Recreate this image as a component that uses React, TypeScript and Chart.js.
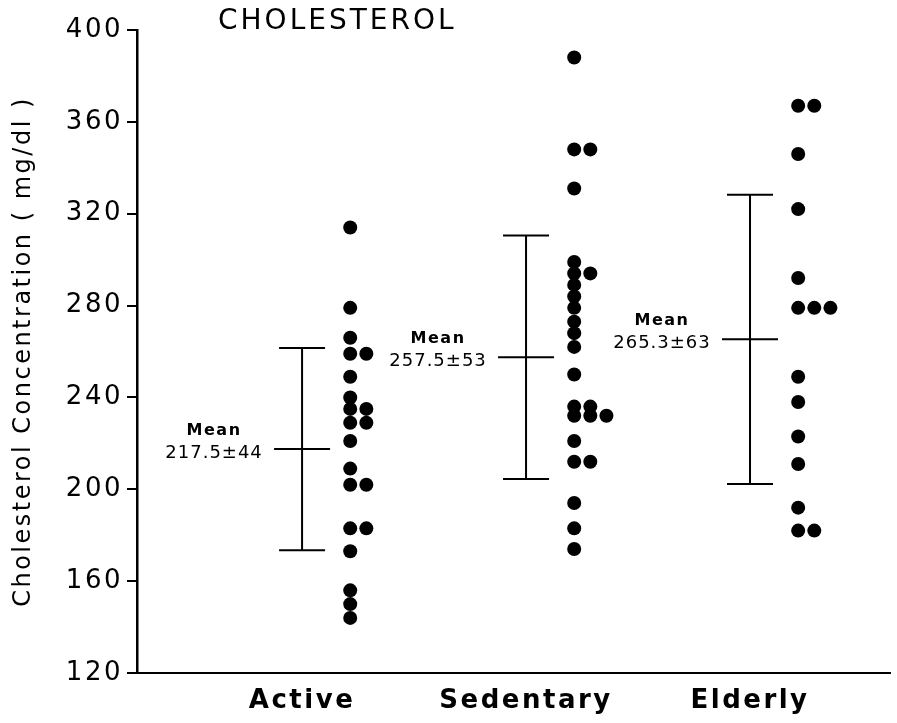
import React, { useEffect, useRef } from 'react';
import { Chart, registerables } from 'chart.js';

Chart.register(...registerables);

// ---- data ----
const categories = ['Active', 'Sedentary', 'Elderly'];
const activeValues = [314, 279, 266, 259, 259, 249, 240, 235, 235, 229, 229, 221, 209, 202, 202, 183, 183, 173, 156, 150, 144];
const sedentaryValues = [388, 348, 348, 331, 299, 294, 294, 289, 284, 279, 273, 268, 262, 250, 236, 236, 232, 232, 232, 221, 212, 212, 194, 183, 174];
const elderlyValues = [367, 367, 346, 322, 292, 279, 279, 279, 249, 238, 223, 211, 192, 182, 182];
const groupMeans = [217.5, 257.5, 265.3];
const groupSDs = [44, 53, 63];
const meanWord = 'Mean';
const meanLabels = ['217.5±44', '257.5±53', '265.3±63'];
const yTickValues = [120, 160, 200, 240, 280, 320, 360, 400];
const chartTitle = 'CHOLESTEROL';
const yAxisTitle = 'Cholesterol Concentration ( mg/dl )';

// ---- layout constants ----
const FAMILY = '"DejaVu Sans", "Liberation Sans", sans-serif';
const DOT_OFFSET = 0.215;
const DOT_STEP = 0.072;

function toPoints(values: number[], catIdx: number) {
  const seen = new Map<number, number>();
  return values.map((v) => {
    const c = seen.get(v) || 0;
    seen.set(v, c + 1);
    return { x: catIdx + 1 + DOT_OFFSET + c * DOT_STEP, y: v };
  });
}

const overlayPlugin = {
  id: 'overlay',
  beforeDraw(chart: any) {
    (chart.ctx as any).letterSpacing = '2.5px';
  },
  afterDatasetsDraw(chart: any) {
    const { ctx, scales, chartArea } = chart;
    const x = scales.x;
    const y = scales.y;
    ctx.save();
    ctx.strokeStyle = '#000';
    ctx.fillStyle = '#000';
    ctx.lineWidth = 2;
    categories.forEach((_, i) => {
      const cx = x.getPixelForValue(i + 1);
      const top = y.getPixelForValue(groupMeans[i] + groupSDs[i]);
      const bot = y.getPixelForValue(groupMeans[i] - groupSDs[i]);
      const my = y.getPixelForValue(groupMeans[i]);
      ctx.beginPath();
      ctx.moveTo(cx, top);
      ctx.lineTo(cx, bot);
      ctx.moveTo(cx - 23, top);
      ctx.lineTo(cx + 23, top);
      ctx.moveTo(cx - 23, bot);
      ctx.lineTo(cx + 23, bot);
      ctx.moveTo(cx - 28, my);
      ctx.lineTo(cx + 28, my);
      ctx.stroke();
      ctx.textAlign = 'center';
      ctx.textBaseline = 'middle';
      ctx.letterSpacing = '1.5px';
      ctx.font = `bold 16px ${FAMILY}`;
      ctx.fillText(meanWord, cx - 88, my - 18);
      ctx.letterSpacing = '1px';
      ctx.font = `18px ${FAMILY}`;
      ctx.fillText(meanLabels[i], cx - 88, my + 4);
    });
    ctx.textAlign = 'left';
    ctx.textBaseline = 'middle';
    ctx.letterSpacing = '3px';
    ctx.font = `28px ${FAMILY}`;
    ctx.fillText(chartTitle, chartArea.left + 81, 22);
    ctx.restore();
  },
};

export default function App() {
  const canvasRef = useRef<HTMLCanvasElement | null>(null);

  useEffect(() => {
    if (!canvasRef.current) return;
    const pointStyle = {
      pointRadius: 7,
      pointHoverRadius: 7,
      backgroundColor: '#000',
      borderColor: '#000',
      borderWidth: 0,
      showLine: false,
    };
    const chart = new Chart(canvasRef.current, {
      type: 'scatter',
      data: {
        datasets: [
          { label: categories[0], data: toPoints(activeValues, 0), ...pointStyle },
          { label: categories[1], data: toPoints(sedentaryValues, 1), ...pointStyle },
          { label: categories[2], data: toPoints(elderlyValues, 2), ...pointStyle },
        ],
      },
      options: {
        responsive: false,
        animation: false,
        layout: { padding: { top: 30, left: 0, right: 0, bottom: 0 } },
        plugins: {
          legend: { display: false },
          tooltip: { enabled: false },
          title: { display: false },
        },
        scales: {
          x: {
            type: 'linear',
            min: 0.263,
            max: 3.625,
            afterBuildTicks: (s: any) => {
              s.ticks = categories.map((_, i) => ({ value: i + 1 }));
            },
            ticks: {
              callback: (v: any) => categories[Math.round(Number(v)) - 1] ?? '',
              font: { family: FAMILY, size: 26, weight: 'bold' },
              color: '#000',
              padding: 13,
              maxRotation: 0,
              autoSkip: false,
            },
            grid: { display: false, drawTicks: false },
            border: { display: true, color: '#000', width: 2 },
            afterFit: (s: any) => {
              s.height = 50;
            },
          },
          y: {
            type: 'linear',
            min: 120,
            max: 400,
            afterBuildTicks: (s: any) => {
              s.ticks = yTickValues.map((v) => ({ value: v }));
            },
            ticks: {
              font: { family: FAMILY, size: 26 },
              color: '#000',
              padding: 4,
              callback: (v: any) => String(v),
            },
            grid: {
              display: true,
              drawOnChartArea: false,
              drawTicks: true,
              tickLength: 10,
              color: '#000',
              lineWidth: 2,
            },
            border: { display: true, color: '#000', width: 2.5 },
            title: {
              display: true,
              text: yAxisTitle,
              font: { family: FAMILY, size: 24 },
              color: '#000',
              padding: { top: 9, bottom: 0 },
            },
            afterFit: (s: any) => {
              s.width = 137;
            },
          },
        },
      },
      plugins: [overlayPlugin],
    } as any);
    return () => chart.destroy();
  }, []);

  return (
    <div style={{ position: 'fixed', left: 0, top: 0, width: 897, height: 723, background: '#fff' }}>
      <canvas ref={canvasRef} width={897} height={723} style={{ display: 'block' }} />
    </div>
  );
}
